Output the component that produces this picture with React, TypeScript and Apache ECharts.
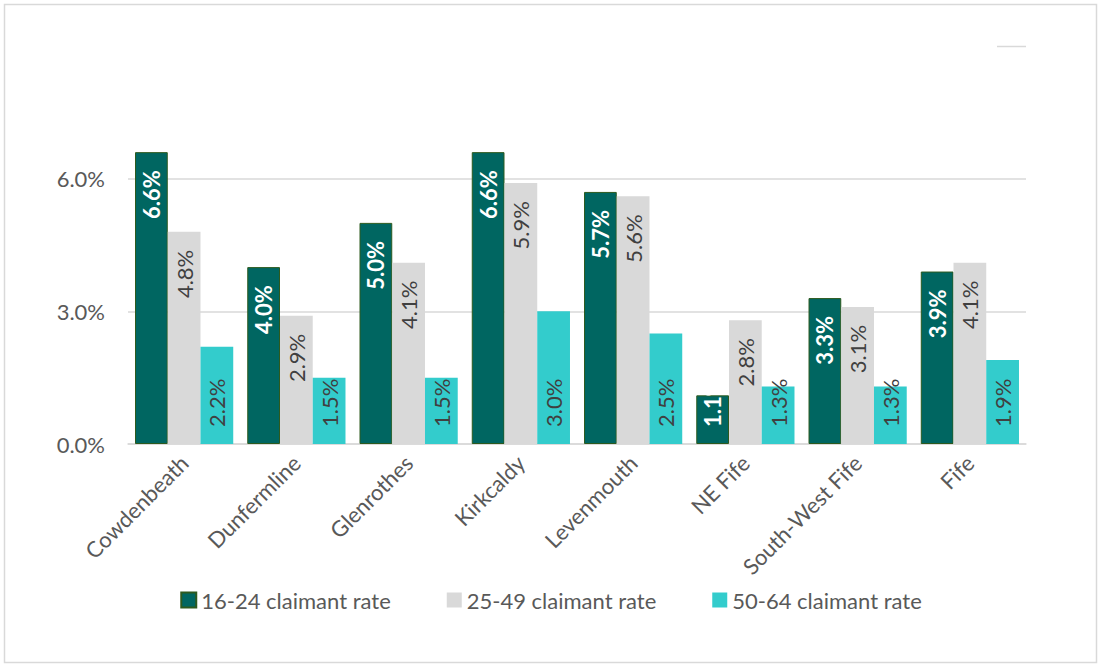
import React, { useEffect, useRef } from "react";
import * as echarts from "echarts";

const categories = ["Cowdenbeath", "Dunfermline", "Glenrothes", "Kirkcaldy", "Levenmouth", "NE Fife", "South-West Fife", "Fife"];
const rate16to24 = [6.6, 4.0, 5.0, 6.6, 5.7, 1.1, 3.3, 3.9];
const rate25to49 = [4.8, 2.9, 4.1, 5.9, 5.6, 2.8, 3.1, 4.1];
const rate50to64 = [2.2, 1.5, 1.5, 3.0, 2.5, 1.3, 1.3, 1.9];
const seriesNames = ["16-24 claimant rate", "25-49 claimant rate", "50-64 claimant rate"];
const yTicks = [0, 3, 6, 9];

const FONT = "Lato, 'Open Sans', sans-serif";
const FS = 22;

export default function App() {
  const ref = useRef<HTMLDivElement>(null);

  useEffect(() => {
    document.body.style.margin = "0";
    if (!ref.current) return;
    const chart = echarts.init(ref.current, null, { renderer: "svg" });

    const fmt = (p: any) => Number(p.value).toFixed(1) + "%";
    const topLabel = (color: string, bold: boolean) => ({
      show: true,
      position: "insideTop",
      rotate: 90,
      align: "right",
      verticalAlign: "middle",
      distance: 18,
      color,
      fontFamily: FONT,
      fontSize: FS,
      fontWeight: bold ? "bold" : "normal",
      formatter: fmt,
    });
    const bottomLabel = (color: string, bold: boolean) => ({
      show: true,
      position: "insideBottom",
      rotate: 90,
      align: "left",
      verticalAlign: "middle",
      distance: 17,
      color,
      fontFamily: FONT,
      fontSize: FS,
      fontWeight: bold ? "bold" : "normal",
      formatter: fmt,
    });

    const darkData = rate16to24.map((v) =>
      v < 2 ? { value: v, label: bottomLabel("#ffffff", true) } : v
    );

    chart.setOption({
      animation: false,
      backgroundColor: "#ffffff",
      textStyle: { fontFamily: FONT },
      grid: { left: 128, top: 46, width: 898, height: 398, containLabel: false },
      legend: {
        left: "center",
        top: 584,
        itemWidth: 15,
        itemHeight: 15,
        itemGap: 56,
        icon: "rect",
        textStyle: { color: "#595959", fontFamily: FONT, fontSize: FS },
        data: seriesNames,
      },
      xAxis: {
        type: "category",
        data: categories,
        axisLine: { show: true, lineStyle: { color: "#d9d9d9", width: 1.5 } },
        axisTick: { show: false },
        axisLabel: { rotate: 45, margin: 15, color: "#595959", fontFamily: FONT, fontSize: FS, interval: 0 },
      },
      yAxis: {
        type: "value",
        min: yTicks[0],
        max: yTicks[yTicks.length - 1],
        interval: yTicks[1] - yTicks[0],
        axisLine: { show: false },
        axisTick: { show: false },
        axisLabel: {
          margin: 23,
          align: "right",
          color: "#595959",
          fontFamily: FONT,
          fontSize: FS,
          formatter: (v: number) => (v >= yTicks[yTicks.length - 1] ? "" : v.toFixed(1) + "%"),
        },
        splitLine: {
          show: true,
          lineStyle: { color: ["#d9d9d9", "#d9d9d9", "#d9d9d9", "rgba(0,0,0,0)"], width: 1.5 },
        },
      },
      series: [
        {
          name: seriesNames[0],
          type: "bar",
          data: darkData,
          barGap: "0%",
          barCategoryGap: "12.5%",
          itemStyle: { color: "#006661", borderColor: "#2d5a1e", borderWidth: 1 },
          label: topLabel("#ffffff", true),
        },
        {
          name: seriesNames[1],
          type: "bar",
          data: rate25to49,
          barGap: "0%",
          barCategoryGap: "12.5%",
          itemStyle: { color: "#d9d9d9" },
          label: topLabel("#404040", false),
        },
        {
          name: seriesNames[2],
          type: "bar",
          data: rate50to64,
          barGap: "0%",
          barCategoryGap: "12.5%",
          itemStyle: { color: "#33cccc" },
          label: bottomLabel("#404040", false),
        },
      ],
      graphic: [
        {
          type: "rect",
          shape: { x: 4.5, y: 4.5, width: 1092, height: 658 },
          style: { fill: "none", stroke: "#d9d9d9", lineWidth: 1.5 },
          silent: true,
        },
        {
          type: "line",
          shape: { x1: 997, y1: 46.5, x2: 1026, y2: 46.5 },
          style: { stroke: "#d9d9d9", lineWidth: 1.5 },
          silent: true,
        },
      ],
    });

    return () => chart.dispose();
  }, []);

  return <div ref={ref} style={{ width: 1102, height: 667 }} />;
}
